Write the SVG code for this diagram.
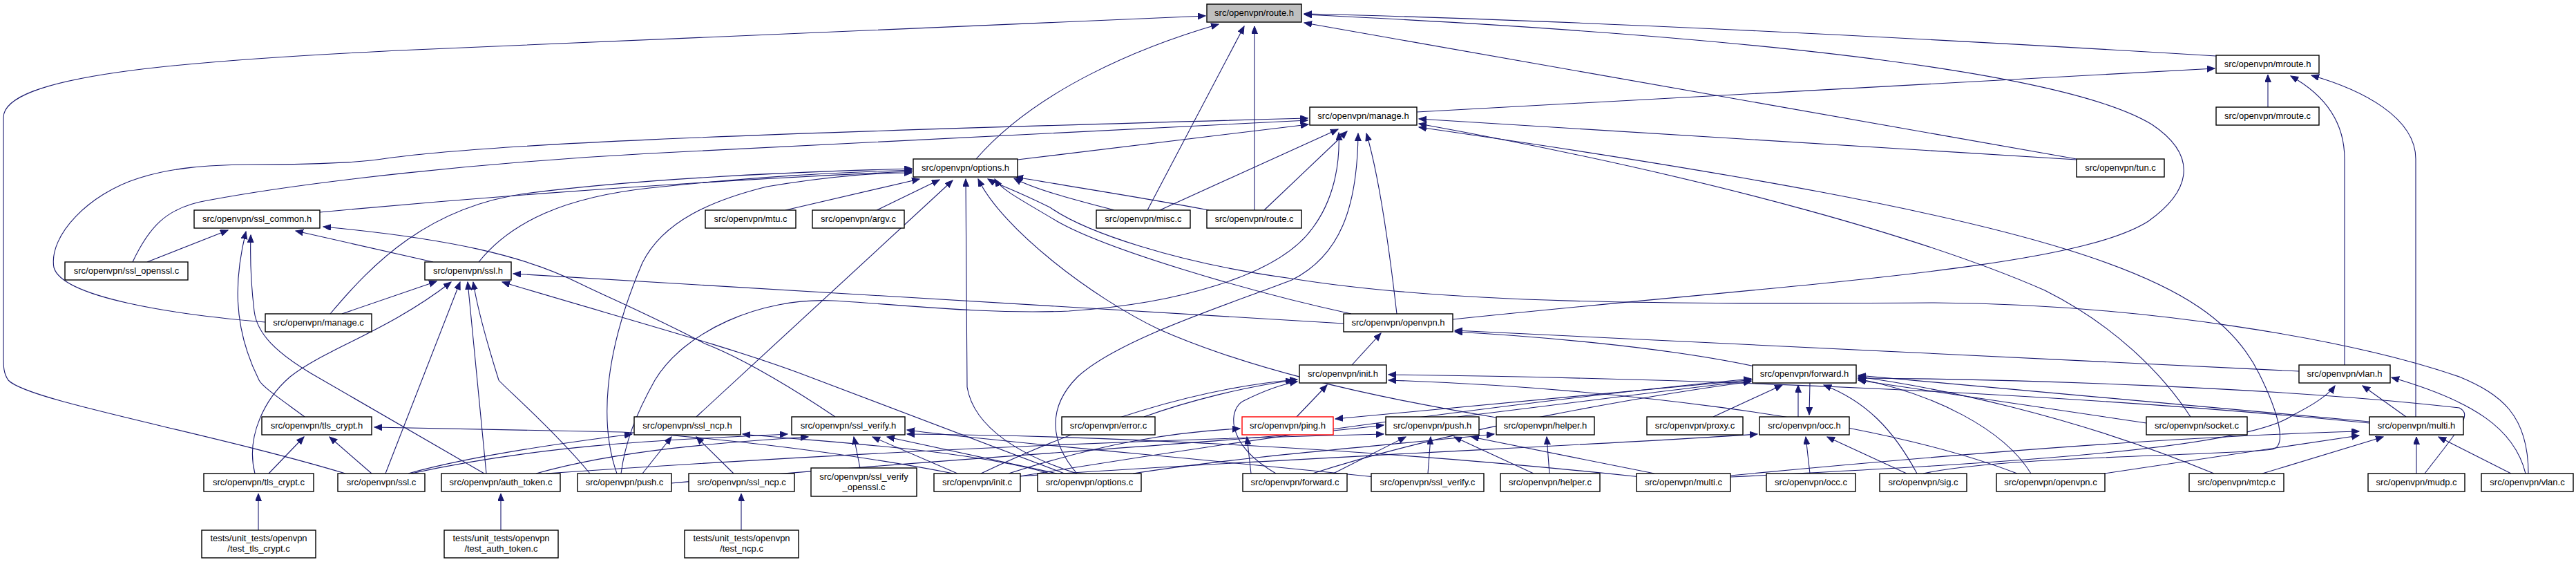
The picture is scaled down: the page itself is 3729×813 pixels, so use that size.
<svg xmlns="http://www.w3.org/2000/svg" width="3729" height="813" viewBox="0 0 3729 813">
<style>
.n rect{fill:#fff;stroke:#000;stroke-width:1.4}
.n text{font-family:"Liberation Sans",Arial,sans-serif;font-size:13px;text-anchor:middle;fill:#000}
#edges path{fill:none;stroke:#191970;stroke-width:1.1;marker-end:url(#a)}
</style>
<defs>
<marker id="a" markerWidth="12" markerHeight="10" refX="11" refY="4.5" orient="auto" markerUnits="userSpaceOnUse"><path d="M0,0 L11,4.5 L0,9 z" fill="#191970" stroke="#191970" stroke-width="1"/></marker>
</defs>
<rect width="3729" height="813" fill="#fff"/>
<g id="edges">
<path d="M500,685 C300,625 40,580 12,550 C5,540 5,530 5,515 L5,170 C5,110 250,88 600,72 C1000,55 1400,38 1745,23"/>
<path d="M1413,230 C1500,130 1650,68 1764,35"/>
<path d="M1661,304 L1801,38"/>
<path d="M1816,304 L1816,38"/>
<path d="M3208,81 C2700,50 2200,27 1888,20"/>
<path d="M2103,462 C2600,410 3000,390 3110,320 C3180,270 3175,220 3115,180 C3000,110 2600,55 1888,21"/>
<path d="M3006,230 L1888,33"/>
<path d="M2051,162 L3206,99"/>
<path d="M3283,155 L3283,108"/>
<path d="M3394,528 L3394,230 C3394,180 3370,140 3316,110"/>
<path d="M3497,603 L3497,230 C3497,170 3420,130 3346,109"/>
<path d="M1473,231 L1894,180"/>
<path d="M192,379 C215,330 240,300 300,290 C450,262 700,235 940,222 L1893,174"/>
<path d="M384,466 C250,455 90,430 78,387 C70,340 130,280 200,258 C250,242 300,239 360,238 C450,238 520,236 560,229 C700,210 1000,195 1893,171"/>
<path d="M1679,304 L1937,187"/>
<path d="M1830,304 L1950,190"/>
<path d="M899,685 C905,640 920,600 948,550 C990,480 1100,430 1206,435 C1300,440 1420,455 1547,450 C1700,440 1850,400 1900,330 C1930,290 1940,240 1938,192"/>
<path d="M1559,685 C1520,640 1515,590 1560,545 C1620,490 1780,440 1870,405 C1940,370 1965,300 1966,193"/>
<path d="M2022,454 C2010,350 1995,250 1978,193"/>
<path d="M3006,231 L2054,172"/>
<path d="M3171,603 C3130,540 3060,470 2960,420 C2800,350 2500,260 2054,179"/>
<path d="M2784,685 C2900,660 3200,660 3290,650 C3310,645 3300,600 3270,540 C3200,400 3000,320 2054,184"/>
<path d="M463,307 C700,285 1000,262 1320,248"/>
<path d="M693,379 C740,320 820,285 940,272 C1100,255 1200,250 1320,246"/>
<path d="M478,454 C540,380 620,300 760,280 C900,262 1100,250 1320,244"/>
<path d="M893,685 C870,620 870,520 930,380 C960,320 1030,290 1110,270 C1200,255 1270,250 1320,250"/>
<path d="M1137,304 L1331,259"/>
<path d="M1269,304 L1360,260"/>
<path d="M1008,603 L1379,261"/>
<path d="M1559,685 C1480,660 1410,620 1400,560 L1398,259"/>
<path d="M2166,604 C1960,570 1800,530 1679,477 C1580,430 1450,330 1416,259"/>
<path d="M1956,454 C1800,420 1600,360 1530,320 C1480,290 1450,275 1440,259"/>
<path d="M3660,685 C3660,600 3620,570 3560,545 C3400,490 3100,440 2800,438 C2400,440 2100,440 1870,403 C1700,380 1570,335 1520,300 C1470,275 1440,265 1430,259"/>
<path d="M1613,304 C1560,290 1500,275 1468,258"/>
<path d="M1750,304 C1650,285 1550,270 1470,256"/>
<path d="M213,379 L330,333"/>
<path d="M441,603 C410,580 380,560 375,550 C335,470 340,400 356,335"/>
<path d="M701,685 L450,540 C400,510 372,483 368,450 C362,400 362,370 363,340"/>
<path d="M627,379 L428,334"/>
<path d="M1209,603 C1160,570 1080,520 1020,497 C950,460 880,430 839,410 C760,370 650,345 468,328"/>
<path d="M495,454 L632,407"/>
<path d="M369,685 C355,630 385,575 420,545 C470,505 560,480 653,408"/>
<path d="M558,685 L666,408"/>
<path d="M704,685 L677,408"/>
<path d="M854,685 C800,620 730,560 722,550 C700,480 690,440 685,408"/>
<path d="M1945,468 C1500,440 1100,415 743,396"/>
<path d="M1541,685 L1158,540 C1050,500 900,460 727,408"/>
<path d="M389,685 L440,632"/>
<path d="M538,685 L477,632"/>
<path d="M1380,685 C1200,650 1000,630 900,625 L542,618"/>
<path d="M1062,685 L1008,632"/>
<path d="M930,685 L972,632"/>
<path d="M591,685 C680,660 820,640 915,628"/>
<path d="M1520,685 C1400,650 1200,640 1075,628"/>
<path d="M1245,677 L1236,632"/>
<path d="M595,685 C800,640 1000,635 1140,628"/>
<path d="M776,685 C900,650 1050,640 1170,632"/>
<path d="M1386,685 L1263,632"/>
<path d="M1530,685 L1284,632"/>
<path d="M1990,690 C1700,660 1450,640 1313,622"/>
<path d="M2375,690 C2000,650 1600,630 1313,628"/>
<path d="M1656,603 C1720,580 1800,560 1872,550"/>
<path d="M1877,603 L1921,557"/>
<path d="M2540,549 C2300,570 2100,590 1933,606"/>
<path d="M1811,685 L1805,632"/>
<path d="M1460,685 C1600,640 1700,625 1795,620"/>
<path d="M2110,603 C2300,580 2450,560 2535,551"/>
<path d="M960,700 C1400,660 1800,640 2003,615"/>
<path d="M2067,685 L2071,632"/>
<path d="M2220,685 L2105,632"/>
<path d="M1930,685 L2035,632"/>
<path d="M2395,685 L2130,632"/>
<path d="M790,685 C1300,650 1700,635 2003,628"/>
<path d="M2243,685 L2239,632"/>
<path d="M1640,685 C1800,660 2000,645 2163,628"/>
<path d="M2480,603 L2580,557"/>
<path d="M2603,603 L2603,557"/>
<path d="M2620,554 L2619,600"/>
<path d="M2620,685 L2614,632"/>
<path d="M2760,685 L2645,632"/>
<path d="M1460,690 C1900,660 2300,645 2544,628"/>
<path d="M2540,530 C2400,500 2200,485 2106,480"/>
<path d="M1900,685 C2100,620 2400,570 2535,552"/>
<path d="M1470,690 C1900,620 2300,570 2535,548"/>
<path d="M2775,685 C2740,620 2700,580 2640,557"/>
<path d="M2940,685 C2900,620 2800,570 2690,548"/>
<path d="M3205,685 C3000,600 2800,560 2690,545"/>
<path d="M3510,685 C3560,620 3580,600 3560,590 C3300,560 2900,548 2690,547"/>
<path d="M3107,612 C2900,580 2750,560 2690,550"/>
<path d="M3430,610 C3100,580 2800,555 2690,543"/>
<path d="M1957,528 L1999,482"/>
<path d="M1420,685 C1600,600 1750,560 1878,549"/>
<path d="M1847,685 C1770,640 1780,590 1800,580 C1830,565 1855,556 1878,552"/>
<path d="M3430,612 C3000,570 2500,548 2010,542"/>
<path d="M3328,537 C3000,520 2600,500 2106,478"/>
<path d="M3483,603 L3420,558"/>
<path d="M3656,685 C3640,620 3580,580 3462,546"/>
<path d="M2505,690 C2900,670 3250,650 3320,600 C3360,580 3375,565 3380,558"/>
<path d="M3498,685 L3498,632"/>
<path d="M3275,685 L3450,632"/>
<path d="M3635,685 L3530,632"/>
<path d="M3046,685 L3415,630"/>
<path d="M2505,688 C2900,650 3200,630 3415,624"/>
<path d="M2920,685 C2700,600 2300,560 2010,550"/>
<path d="M374,767 L374,714"/>
<path d="M725,767 L725,714"/>
<path d="M1073,767 L1073,714"/>
</g>
<g id="n-route_h" class="n"><rect x="1747" y="6" width="137" height="26" style="fill:#bfbfbf"/><text x="1815.5" y="23">src/openvpn/route.h</text></g>
<g id="n-mroute_h" class="n"><rect x="3208" y="80" width="149" height="26"/><text x="3282.5" y="97">src/openvpn/mroute.h</text></g>
<g id="n-mroute_c" class="n"><rect x="3208" y="155" width="149" height="26"/><text x="3282.5" y="172">src/openvpn/mroute.c</text></g>
<g id="n-manage_h" class="n"><rect x="1896" y="155" width="155" height="26"/><text x="1973.5" y="172">src/openvpn/manage.h</text></g>
<g id="n-options_h" class="n"><rect x="1322" y="230" width="151" height="26"/><text x="1397.5" y="247">src/openvpn/options.h</text></g>
<g id="n-tun_c" class="n"><rect x="3006" y="230" width="127" height="26"/><text x="3069.5" y="247">src/openvpn/tun.c</text></g>
<g id="n-ssl_common_h" class="n"><rect x="281" y="304" width="182" height="26"/><text x="372" y="321">src/openvpn/ssl_common.h</text></g>
<g id="n-mtu_c" class="n"><rect x="1021" y="304" width="131" height="26"/><text x="1086.5" y="321">src/openvpn/mtu.c</text></g>
<g id="n-argv_c" class="n"><rect x="1176" y="304" width="133" height="26"/><text x="1242.5" y="321">src/openvpn/argv.c</text></g>
<g id="n-misc_c" class="n"><rect x="1587" y="304" width="136" height="26"/><text x="1655" y="321">src/openvpn/misc.c</text></g>
<g id="n-route_c" class="n"><rect x="1747" y="304" width="137" height="26"/><text x="1815.5" y="321">src/openvpn/route.c</text></g>
<g id="n-ssl_openssl_c" class="n"><rect x="94" y="379" width="178" height="26"/><text x="183" y="396">src/openvpn/ssl_openssl.c</text></g>
<g id="n-ssl_h" class="n"><rect x="615" y="379" width="125" height="26"/><text x="677.5" y="396">src/openvpn/ssl.h</text></g>
<g id="n-manage_c" class="n"><rect x="384" y="454" width="154" height="26"/><text x="461" y="471">src/openvpn/manage.c</text></g>
<g id="n-openvpn_h" class="n"><rect x="1945" y="454" width="158" height="26"/><text x="2024" y="471">src/openvpn/openvpn.h</text></g>
<g id="n-init_h" class="n"><rect x="1881" y="528" width="126" height="26"/><text x="1944" y="545">src/openvpn/init.h</text></g>
<g id="n-forward_h" class="n"><rect x="2537" y="528" width="150" height="26"/><text x="2612" y="545">src/openvpn/forward.h</text></g>
<g id="n-vlan_h" class="n"><rect x="3328" y="528" width="132" height="26"/><text x="3394" y="545">src/openvpn/vlan.h</text></g>
<g id="n-tls_crypt_h" class="n"><rect x="379" y="603" width="159" height="26"/><text x="458.5" y="620">src/openvpn/tls_crypt.h</text></g>
<g id="n-ssl_ncp_h" class="n"><rect x="918" y="603" width="154" height="26"/><text x="995" y="620">src/openvpn/ssl_ncp.h</text></g>
<g id="n-ssl_verify_h" class="n"><rect x="1146" y="603" width="164" height="26"/><text x="1228" y="620">src/openvpn/ssl_verify.h</text></g>
<g id="n-error_c" class="n"><rect x="1537" y="603" width="135" height="26"/><text x="1604.5" y="620">src/openvpn/error.c</text></g>
<g id="n-ping_h" class="n"><rect x="1798" y="603" width="132" height="26" style="stroke:#f00"/><text x="1864" y="620">src/openvpn/ping.h</text></g>
<g id="n-push_h" class="n"><rect x="2006" y="603" width="135" height="26"/><text x="2073.5" y="620">src/openvpn/push.h</text></g>
<g id="n-helper_h" class="n"><rect x="2166" y="603" width="142" height="26"/><text x="2237" y="620">src/openvpn/helper.h</text></g>
<g id="n-proxy_c" class="n"><rect x="2384" y="603" width="139" height="26"/><text x="2453.5" y="620">src/openvpn/proxy.c</text></g>
<g id="n-occ_h" class="n"><rect x="2547" y="603" width="130" height="26"/><text x="2612" y="620">src/openvpn/occ.h</text></g>
<g id="n-socket_c" class="n"><rect x="3107" y="603" width="146" height="26"/><text x="3180" y="620">src/openvpn/socket.c</text></g>
<g id="n-multi_h" class="n"><rect x="3430" y="603" width="136" height="26"/><text x="3498" y="620">src/openvpn/multi.h</text></g>
<g id="n-tls_crypt_c" class="n"><rect x="295" y="685" width="159" height="26"/><text x="374.5" y="702">src/openvpn/tls_crypt.c</text></g>
<g id="n-ssl_c" class="n"><rect x="489" y="685" width="126" height="26"/><text x="552" y="702">src/openvpn/ssl.c</text></g>
<g id="n-auth_token_c" class="n"><rect x="639" y="685" width="172" height="26"/><text x="725" y="702">src/openvpn/auth_token.c</text></g>
<g id="n-push_c" class="n"><rect x="836" y="685" width="136" height="26"/><text x="904" y="702">src/openvpn/push.c</text></g>
<g id="n-ssl_ncp_c" class="n"><rect x="997" y="685" width="153" height="26"/><text x="1073.5" y="702">src/openvpn/ssl_ncp.c</text></g>
<g id="n-ssl_verify_openssl_c" class="n"><rect x="1174" y="677" width="153" height="41"/><text x="1250.5" y="693.5">src/openvpn/ssl_verify</text><text x="1250.5" y="708.5">_openssl.c</text></g>
<g id="n-init_c" class="n"><rect x="1352" y="685" width="125" height="26"/><text x="1414.5" y="702">src/openvpn/init.c</text></g>
<g id="n-options_c" class="n"><rect x="1502" y="685" width="150" height="26"/><text x="1577" y="702">src/openvpn/options.c</text></g>
<g id="n-forward_c" class="n"><rect x="1799" y="685" width="151" height="26"/><text x="1874.5" y="702">src/openvpn/forward.c</text></g>
<g id="n-ssl_verify_c" class="n"><rect x="1985" y="685" width="163" height="26"/><text x="2066.5" y="702">src/openvpn/ssl_verify.c</text></g>
<g id="n-helper_c" class="n"><rect x="2172" y="685" width="144" height="26"/><text x="2244" y="702">src/openvpn/helper.c</text></g>
<g id="n-multi_c" class="n"><rect x="2369" y="685" width="136" height="26"/><text x="2437" y="702">src/openvpn/multi.c</text></g>
<g id="n-occ_c" class="n"><rect x="2557" y="685" width="129" height="26"/><text x="2621.5" y="702">src/openvpn/occ.c</text></g>
<g id="n-sig_c" class="n"><rect x="2721" y="685" width="126" height="26"/><text x="2784" y="702">src/openvpn/sig.c</text></g>
<g id="n-openvpn_c" class="n"><rect x="2890" y="685" width="157" height="26"/><text x="2968.5" y="702">src/openvpn/openvpn.c</text></g>
<g id="n-mtcp_c" class="n"><rect x="3169" y="685" width="137" height="26"/><text x="3237.5" y="702">src/openvpn/mtcp.c</text></g>
<g id="n-mudp_c" class="n"><rect x="3428" y="685" width="140" height="26"/><text x="3498" y="702">src/openvpn/mudp.c</text></g>
<g id="n-vlan_c" class="n"><rect x="3592" y="685" width="133" height="26"/><text x="3658.5" y="702">src/openvpn/vlan.c</text></g>
<g id="n-test_tls_crypt_c" class="n"><rect x="292" y="767" width="165" height="40"/><text x="374.5" y="782.5">tests/unit_tests/openvpn</text><text x="374.5" y="797.5">/test_tls_crypt.c</text></g>
<g id="n-test_auth_token_c" class="n"><rect x="643" y="767" width="165" height="40"/><text x="725.5" y="782.5">tests/unit_tests/openvpn</text><text x="725.5" y="797.5">/test_auth_token.c</text></g>
<g id="n-test_ncp_c" class="n"><rect x="991" y="767" width="165" height="40"/><text x="1073.5" y="782.5">tests/unit_tests/openvpn</text><text x="1073.5" y="797.5">/test_ncp.c</text></g>
</svg>
